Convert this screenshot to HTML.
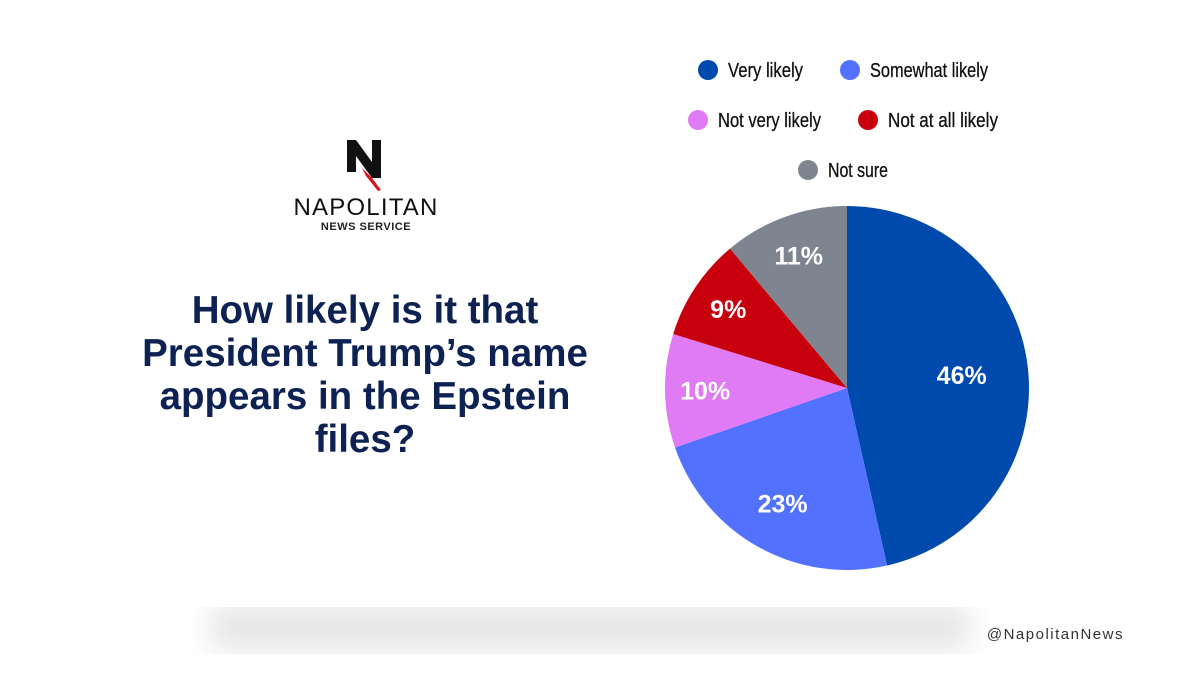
<!DOCTYPE html>
<html><head><meta charset="utf-8"><style>
body{margin:0;background:#fff;}
#wrap{position:relative;width:1200px;height:675px;overflow:hidden;background:#fff;font-family:"Liberation Sans",sans-serif;}
</style></head><body>
<div id="wrap">
<svg width="1200" height="675" viewBox="0 0 1200 675" id="svg">
<defs>
<filter id="blur"><feGaussianBlur stdDeviation="14"/></filter>
</defs>
<rect x="210" y="605" width="760" height="45" fill="#e6e6e6" filter="url(#blur)"/>
<rect x="0" y="0" width="1200" height="607" fill="#fff"/>
<g>
<path d="M347 140 L356 140 L372 162 L372 140 L381 140 L381 178 L372 178 L356 156 L356 172 L347 172 Z" fill="#111"/>
<path d="M362 168 L372 178 L381 190 L378 191 L366 176 Z" fill="#d7141a"/>
<text x="366" y="215" font-size="24" text-anchor="middle" fill="#111" letter-spacing="1.2">NAPOLITAN</text>
<text x="366" y="230" font-size="11" font-weight="bold" text-anchor="middle" fill="#222" letter-spacing="0.5">NEWS SERVICE</text>
</g>
<g font-size="38.5" font-weight="bold" fill="#0d2253" text-anchor="middle">
<text x="365" y="323">How likely is it that</text>
<text x="365" y="366">President Trump’s name</text>
<text x="365" y="409">appears in the Epstein</text>
<text x="365" y="452">files?</text>
</g>
<g id="pie"></g>
<g id="legend"></g>
<text x="1124" y="639" font-size="15" text-anchor="end" fill="#333" letter-spacing="1.5">@NapolitanNews</text>
</svg>
</div>
<script>
const categories=["Very likely","Somewhat likely","Not very likely","Not at all likely","Not sure"];
const values=[46,23,10,9,11];
const labels=["46%","23%","10%","9%","11%"];
const colors=["#004aad","#5271ff","#e07af5","#c8000e","#7f8590"];
const NS="http://www.w3.org/2000/svg";
const cx=847,cy=388,R=182;
const total=values.reduce((a,b)=>a+b,0);
const pie=document.getElementById('pie');
function pt(a,r){return [cx+r*Math.sin(a),cy-r*Math.cos(a)];}
let acc=0;
values.forEach((v,i)=>{
  const a0=acc/total*2*Math.PI; acc+=v; const a1=acc/total*2*Math.PI;
  const p0=pt(a0,R),p1=pt(a1,R);
  const path=document.createElementNS(NS,'path');
  path.setAttribute('d',`M${cx} ${cy} L${p0[0]} ${p0[1]} A${R} ${R} 0 ${a1-a0>Math.PI?1:0} 1 ${p1[0]} ${p1[1]} Z`);
  path.setAttribute('fill',colors[i]);
  
  
  pie.appendChild(path);
  const frac=v/total;
  const m=(a0+a1)/2, lp=pt(m,R*(0.82-0.4*frac));
  const t=document.createElementNS(NS,'text');
  t.setAttribute('x',lp[0]);t.setAttribute('y',lp[1]+9);
  t.setAttribute('text-anchor','middle');t.setAttribute('font-size','25');
  t.setAttribute('font-weight','bold');t.setAttribute('fill','#fff');
  t.textContent=labels[i];
  
  
  pie.appendChild(t);
});
const legPos=[[708,70,75],[850,70,118],[698,120,103],[868,120,110],[808,170,60]];
const leg=document.getElementById('legend');
categories.forEach((c,i)=>{
  const [x,y,w]=legPos[i];
  const g=document.createElementNS(NS,'g');
  
  
  const ci=document.createElementNS(NS,'circle');
  ci.setAttribute('cx',x);ci.setAttribute('cy',y);ci.setAttribute('r',10);ci.setAttribute('fill',colors[i]);
  g.appendChild(ci);
  const t=document.createElementNS(NS,'text');
  t.setAttribute('x',x+20);t.setAttribute('y',y+7);t.setAttribute('font-size','20');
  t.setAttribute('fill','#111');t.setAttribute('textLength',w);t.setAttribute('lengthAdjust','spacingAndGlyphs');
  t.setAttribute('font-family','"Liberation Sans Narrow","Liberation Sans",sans-serif');
  t.setAttribute('stroke','#111');t.setAttribute('stroke-width','0.3');
  t.textContent=c;
  g.appendChild(t);
  leg.appendChild(g);
});
</script>
</body></html>
